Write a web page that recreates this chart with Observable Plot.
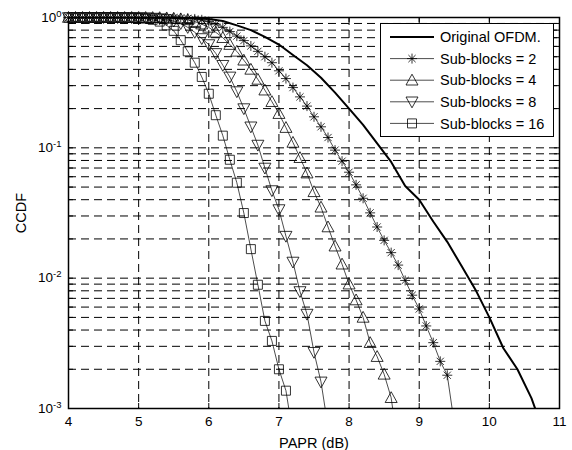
<!DOCTYPE html>
<html><head><meta charset="utf-8">
<script src="https://cdn.jsdelivr.net/npm/d3@7"></script>
<script src="https://cdn.jsdelivr.net/npm/@observablehq/plot@0.6"></script>
<style>
body{margin:0;background:#fff;}
#chart{position:relative;width:572px;height:450px;}
</style>
</head><body><div id="chart"></div>
<script>
// PAPR thresholds (dB) at which the CCDF markers are drawn
const papr = [4.0,4.1,4.2,4.3,4.4,4.5,4.6,4.7,4.8,4.9,5.0,5.1,5.2,5.3,5.4,5.5,5.6,5.7,5.8,5.9,
  6.0,6.1,6.2,6.3,6.4,6.5,6.6,6.7,6.8,6.9,7.0,7.1,7.2,7.3,7.4,7.5,7.6,7.7,7.8,7.9,
  8.0,8.1,8.2,8.3,8.4,8.5,8.6,8.7,8.8,8.9,9.0,9.1,9.2,9.3,9.4,9.5];
// Sub-blocks = 2
const ccdf2 = [1,1,1,1,1,1,1,1,1,1,1,1,0.999,0.999,
  0.998,0.996,0.992,0.985,0.975,0.96,0.93,0.89,0.84,0.78,0.72,0.665,0.605,0.55,0.5,0.45,
  0.39,0.34,0.29,0.246,0.209,0.173,0.145,0.12,0.096,0.079,0.065,0.052,0.041,0.0317,0.0247,
  0.0195,0.0157,0.0126,0.0096,0.0074,0.0058,0.0043,0.0032,0.0023,0.0018,0.00077];
// Sub-blocks = 4
const ccdf4 = [1,1,1,1,1,1,1,1,1,1,1,0.999,0.998,
  0.996,0.992,0.985,0.975,0.96,0.93,0.89,0.84,0.77,0.7,0.62,0.55,0.47,0.4,0.335,0.277,0.226,
  0.183,0.143,0.11,0.084,0.064,0.046,0.035,0.0247,0.0176,0.0128,0.009,0.0068,0.005,0.0032,
  0.0025,0.00183,0.00121,0.0005];
// Sub-blocks = 8
const ccdf8 = [1,1,1,1,1,1,1,1,0.999,0.999,
  0.998,0.995,0.99,0.98,0.965,0.94,0.9,0.84,0.77,0.69,0.62,0.53,0.43,0.35,0.27,0.2,0.145,
  0.105,0.07,0.047,0.0336,0.021,0.0133,0.0079,0.0053,0.0027,0.0016,0.00072];
// Sub-blocks = 16
const ccdf16 = [1,1,1,1,1,1,1,
  0.999,0.998,0.996,0.99,0.98,0.96,0.93,0.87,0.79,0.67,0.55,0.45,0.35,0.26,0.178,0.124,
  0.081,0.054,0.0316,0.0167,0.0089,0.0047,0.0033,0.002,0.00137,0.00063];
// Original OFDM
const ofdmPapr = [4.0,5.0,5.4,5.6,5.8,6.0,6.2,6.4,6.6,6.8,7.0,7.2,7.4,7.6,7.8,8.0,8.2,8.4,8.6,8.8,
  9.0,9.2,9.4,9.6,9.8,10.0,10.2,10.4,10.6,10.7];
const ofdmCcdf = [1,1,0.999,0.997,0.99,0.975,0.94,0.87,0.8,0.71,0.62,0.515,0.43,0.345,0.265,0.2,
  0.15,0.108,0.078,0.051,0.04,0.0272,0.019,0.0125,0.0082,0.005,0.0029,0.002,0.0012,0.00085];

const seriesNames = ["Original OFDM.","Sub-blocks = 2","Sub-blocks = 4","Sub-blocks = 8","Sub-blocks = 16"];
const xTicks = [4,5,6,7,8,9,10,11];
const yDecades = [0.001,0.01,0.1,1];
const yTickLabels = ["10^-3","10^-2","10^-1","10^0"];
const xLabel = "PAPR (dB)";
const yLabel = "CCDF";

// minor log ticks
const yMinor = [];
for (const d of [0.001,0.01,0.1]) for (let k = 1; k <= 9; k++) yMinor.push(+(d*k).toPrecision(3));
yMinor.push(1);

// marker symbols (MATLAB-like)
const rad = s => Math.sqrt(s/Math.PI);
const symStar = {draw(c,s){const r=rad(s),d=r*0.72;c.moveTo(-r,0);c.lineTo(r,0);c.moveTo(0,-r);c.lineTo(0,r);c.moveTo(-d,-d);c.lineTo(d,d);c.moveTo(-d,d);c.lineTo(d,-d);}};
const symUp = {draw(c,s){const r=rad(s);c.moveTo(0,-r);c.lineTo(r,r*0.8);c.lineTo(-r,r*0.8);c.closePath();}};
const symDown = {draw(c,s){const r=rad(s);c.moveTo(0,r);c.lineTo(r,-r*0.8);c.lineTo(-r,-r*0.8);c.closePath();}};
const symSquare = {draw(c,s){const r=rad(s);c.rect(-r,-r,2*r,2*r);}};

const markerSeries = [
  {name: seriesNames[1], values: ccdf2, symbol: symStar, r: 5},
  {name: seriesNames[2], values: ccdf4, symbol: symUp, r: 6},
  {name: seriesNames[3], values: ccdf8, symbol: symDown, r: 6},
  {name: seriesNames[4], values: ccdf16, symbol: symSquare, r: 4.5}
];
const rowsOf = s => s.values.map((v,i)=>({x: papr[i], y: v, series: s.name}));
const ofdmRows = ofdmPapr.map((x,i)=>({x, y: ofdmCcdf[i], series: seriesNames[0]}));

const W = 572, H = 450, mL = 68, mR = 13, mT = 17, mB = 42;
const pw = W - mL - mR, ph = H - mT - mB;
const gridStyle = {stroke: "black", strokeOpacity: 1, strokeWidth: 1, strokeDasharray: "8,5"};

const marks = [
  Plot.gridX(xTicks, gridStyle),
  Plot.gridY(yMinor, gridStyle),
  Plot.line(ofdmRows, {x: "x", y: "y", stroke: "black", strokeWidth: 2, clip: true})
];
for (const s of markerSeries) {
  const rows = rowsOf(s);
  marks.push(Plot.line(rows, {x: "x", y: "y", stroke: "black", strokeWidth: 0.7, clip: true}));
  marks.push(Plot.dot(rows.filter(d => d.y >= 0.001), {x: "x", y: "y", symbol: s.symbol, r: s.r, stroke: "black", fill: "none", strokeWidth: 0.8}));
}
marks.push(
  Plot.ruleX(xTicks, {stroke: "black", insetTop: ph - 5}),
  Plot.ruleX(xTicks, {stroke: "black", insetBottom: ph - 5}),
  Plot.ruleY(yMinor, {stroke: "black", insetRight: pw - 5}),
  Plot.ruleY(yMinor, {stroke: "black", insetLeft: pw - 5}),
  Plot.frame({stroke: "black", strokeWidth: 1.5}),
  Plot.axisX(xTicks, {anchor: "bottom", tickSize: 0, tickPadding: 8, tickFormat: d => String(d),
    label: xLabel, labelAnchor: "center", labelArrow: "none", labelOffset: 39}),
  Plot.axisY(yDecades, {anchor: "left", tickSize: 0, tickPadding: 7,
    tickFormat: d => yTickLabels[yDecades.indexOf(d)],
    label: yLabel, labelAnchor: "center", labelArrow: "none", labelOffset: 53})
);

const chart = Plot.plot({
  width: W, height: H, marginLeft: mL, marginRight: mR, marginTop: mT, marginBottom: mB,
  style: {fontFamily: "'Liberation Sans', Arial, sans-serif", fontSize: "13px", color: "black", background: "white"},
  x: {domain: [4, 11]},
  y: {type: "log", domain: [0.001, 1]},
  marks
});
document.getElementById("chart").appendChild(chart);

const svg = d3.select(chart);
// superscript exponents on y tick labels
svg.selectAll('g[aria-label="y-axis tick label"] text').each(function(){
  const t = d3.select(this); const s = t.text();
  if (s.includes("^")) {
    const [b, e] = s.split("^");
    t.text(b);
    t.append("tspan").attr("dy", "-0.55em").style("font-size", "9.5px").text(e);
  }
});
svg.selectAll('g[aria-label="x-axis tick label"] text, g[aria-label="y-axis tick label"] text').style("font-size", "13.5px");
svg.selectAll('g[aria-label="x-axis label"] text, g[aria-label="y-axis label"] text').style("font-size", "14.5px");

// legend
const lg = svg.append("g");
const lx = 380.5, ly = 23.5, lw = 173, lh = 113;
lg.append("rect").attr("x", lx).attr("y", ly).attr("width", lw).attr("height", lh)
  .attr("fill", "white").attr("stroke", "black").attr("stroke-width", 1);
const legendItems = [{name: seriesNames[0], symbol: null, r: 0}].concat(markerSeries);
legendItems.forEach((it, i) => {
  const y = 37 + i * 21.6;
  lg.append("line").attr("x1", 390).attr("x2", 434).attr("y1", y).attr("y2", y)
    .attr("stroke", "black").attr("stroke-width", it.symbol ? 0.7 : 2);
  if (it.symbol) {
    lg.append("path").attr("transform", `translate(412,${y})`)
      .attr("d", d3.symbol().type(it.symbol).size(it.r * it.r * Math.PI)())
      .attr("fill", "none").attr("stroke", "black").attr("stroke-width", 0.8);
  }
  lg.append("text").attr("x", 440).attr("y", y).attr("dy", "0.36em")
    .attr("fill", "black").attr("text-anchor", "start")
    .style("font-size", "14.5px").style("text-anchor", "start").text(it.name);
});
</script>
</body></html>
